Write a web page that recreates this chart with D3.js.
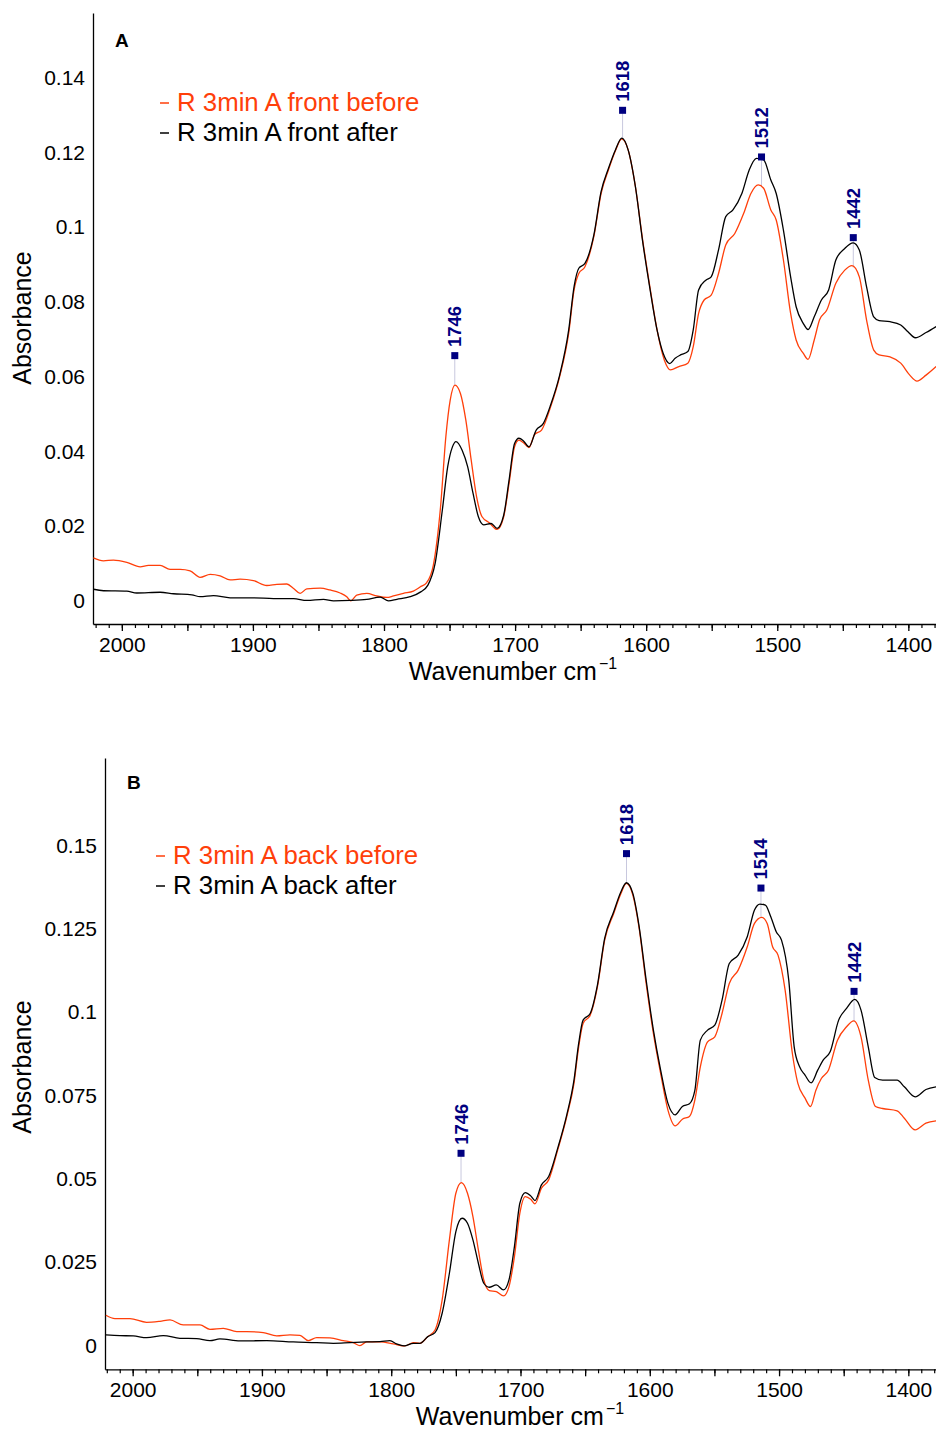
<!DOCTYPE html>
<html>
<head>
<meta charset="utf-8">
<script src="https://cdn.jsdelivr.net/npm/d3@7"></script>
<style>
  body { margin: 0; background: #fff; }
  text { font-family: "Liberation Sans", Arial, sans-serif; }
</style>
</head>
<body>
<div id="chart"></div>
<script>
// spectra: [wavenumber, absorbance]
var frontBefore = [[2021.7,0.0115],[2014,0.0107],[2006.4,0.0109],[1996.2,0.0103],[1986,0.0091],[1979.7,0.0095],[1970.8,0.0095],[1963.2,0.0084],[1955.5,0.0084],[1947.9,0.0080],[1940.3,0.0063],[1932.6,0.0071],[1925,0.0067],[1917.4,0.0056],[1909.8,0.0058],[1899.6,0.0054],[1889.4,0.0041],[1881.8,0.0044],[1874.1,0.0045],[1869,0.0033],[1864,0.0020],[1858.9,0.0032],[1848.7,0.0034],[1841.1,0.0029],[1833.5,0.0021],[1828.4,0.0011],[1825.3,0.0000],[1820.8,0.0015],[1813.1,0.0020],[1805.5,0.0013],[1797.9,0.0009],[1792.8,0.0013],[1785.2,0.0020],[1777.6,0.0026],[1772.5,0.0037],[1767.4,0.0049],[1762.4,0.0095],[1756.9,0.0250],[1752.8,0.0440],[1749.5,0.0537],[1745.9,0.0577],[1741.7,0.0555],[1737.6,0.0484],[1733.5,0.0377],[1729.4,0.0279],[1725.2,0.0225],[1719.7,0.0209],[1713.7,0.0191],[1708.7,0.0225],[1704.6,0.0314],[1700.4,0.0412],[1697.1,0.0430],[1693.6,0.0423],[1689.4,0.0410],[1685.3,0.0444],[1679.8,0.0457],[1672.9,0.0519],[1666,0.0600],[1659.1,0.0716],[1655,0.0832],[1651.4,0.0876],[1646.7,0.0894],[1639.9,0.0975],[1634.4,0.1090],[1628.8,0.1153],[1623.3,0.1206],[1618.6,0.1236],[1613.7,0.1206],[1608.2,0.1108],[1602.7,0.0966],[1597.2,0.0841],[1591.7,0.0725],[1586.1,0.0644],[1581.5,0.0618],[1575.1,0.0627],[1568.2,0.0636],[1564.1,0.0680],[1560,0.0769],[1555.8,0.0805],[1550.4,0.0818],[1544.8,0.0876],[1539.3,0.0952],[1532.4,0.0983],[1525.6,0.1037],[1520.1,0.1090],[1514.5,0.1113],[1510.4,0.1104],[1504.9,0.1046],[1500.8,0.1019],[1495.3,0.0912],[1489.8,0.0769],[1485.6,0.0698],[1480.1,0.0662],[1476.5,0.0646],[1471.8,0.0698],[1467.7,0.0752],[1462.2,0.0778],[1455.3,0.0850],[1448.5,0.0885],[1443,0.0897],[1437.4,0.0867],[1431.9,0.0752],[1426.4,0.0671],[1422.3,0.0658],[1414,0.0653],[1405.8,0.0636],[1398.9,0.0604],[1393.4,0.0588],[1386.5,0.0604],[1378.8,0.0627]];

var frontAfter = [[2021.7,0.0031],[2014,0.0027],[1996.2,0.0026],[1988.6,0.0021],[1970.8,0.0023],[1960.6,0.0019],[1946.6,0.0016],[1940.3,0.0011],[1930.1,0.0014],[1917.4,0.0008],[1899.6,0.0008],[1884.3,0.0006],[1869,0.0006],[1858.9,0.0001],[1846.2,0.0004],[1838.5,0.0000],[1825.8,0.0001],[1813.1,0.0004],[1802.9,0.0010],[1796.6,0.0000],[1790.2,0.0004],[1780,0.0011],[1772,0.0024],[1766.5,0.0042],[1761,0.0100],[1755.5,0.0243],[1751.4,0.0359],[1747.8,0.0412],[1745.1,0.0426],[1740.4,0.0403],[1736.2,0.0359],[1732.1,0.0288],[1728,0.0225],[1723.9,0.0203],[1718.3,0.0207],[1713.7,0.0194],[1708.7,0.0229],[1704.6,0.0323],[1700.4,0.0421],[1697.1,0.0435],[1693.6,0.0428],[1689.4,0.0412],[1683.9,0.0457],[1678.4,0.0475],[1672.9,0.0524],[1666,0.0604],[1659.1,0.0725],[1655,0.0841],[1651.4,0.0890],[1646.7,0.0903],[1639.9,0.0979],[1634.4,0.1095],[1628.8,0.1157],[1623.3,0.1208],[1618.6,0.1238],[1613.7,0.1206],[1608.2,0.1108],[1602.7,0.0962],[1597.2,0.0837],[1591.7,0.0725],[1587,0.0662],[1582,0.0635],[1577.9,0.0649],[1573.8,0.0658],[1568.2,0.0667],[1564.1,0.0725],[1560,0.0832],[1554.5,0.0858],[1550.4,0.0867],[1544.8,0.0939],[1539.3,0.1028],[1533.8,0.1046],[1527,0.1090],[1521.4,0.1153],[1515.9,0.1184],[1510.4,0.1180],[1504.9,0.1126],[1500.8,0.1090],[1495.3,0.0992],[1489.8,0.0867],[1485.6,0.0787],[1480.1,0.0742],[1476.5,0.0726],[1471.8,0.0760],[1466.3,0.0805],[1460.8,0.0832],[1455.3,0.0912],[1448.5,0.0943],[1442.1,0.0958],[1437.4,0.0939],[1431.9,0.0841],[1426.4,0.0760],[1422.3,0.0750],[1414,0.0747],[1405.8,0.0738],[1400.3,0.0720],[1394.7,0.0704],[1386.5,0.0718],[1378.8,0.0734]];

var backBefore = [[2020.7,0.0091],[2013.7,0.0081],[2002.1,0.0081],[1989.2,0.0070],[1978.9,0.0073],[1971.1,0.0077],[1960.9,0.0062],[1947.9,0.0062],[1940.2,0.0049],[1929.9,0.0052],[1919.5,0.0042],[1911.8,0.0042],[1899,0.0039],[1888.6,0.0029],[1878.3,0.0032],[1870.6,0.0031],[1864.2,0.0015],[1857.7,0.0024],[1847.4,0.0023],[1837.1,0.0015],[1829.4,0.0009],[1824.2,0.0000],[1819,0.0011],[1808.7,0.0011],[1798.4,0.0005],[1789.4,-0.0001],[1782.9,0.0009],[1777.8,0.0007],[1771.7,0.0027],[1766.1,0.0047],[1760.6,0.0137],[1755,0.0317],[1750,0.0457],[1745.7,0.0489],[1741,0.0457],[1736.8,0.0387],[1732.6,0.0287],[1728.4,0.0197],[1724.2,0.0165],[1718.7,0.0162],[1713.1,0.0149],[1708.9,0.0177],[1704.7,0.0267],[1700.5,0.0397],[1696.3,0.0447],[1692.1,0.0439],[1688.8,0.0425],[1683.8,0.0472],[1678.2,0.0497],[1671.2,0.0587],[1664.2,0.0687],[1658.6,0.0787],[1655,0.0896],[1651.6,0.0966],[1646.1,0.0991],[1640.5,0.1076],[1634.9,0.1216],[1627.9,0.1296],[1622.3,0.1356],[1618.1,0.1386],[1613.1,0.1351],[1608.4,0.1256],[1602.8,0.1086],[1597.2,0.0936],[1591.6,0.0816],[1586,0.0707],[1580.4,0.0659],[1574.8,0.0679],[1569.3,0.0687],[1565.1,0.0737],[1560.9,0.0836],[1555.3,0.0911],[1549.7,0.0926],[1544.1,0.0996],[1538.5,0.1086],[1531.6,0.1126],[1524.6,0.1196],[1519,0.1266],[1513.4,0.1284],[1509.2,0.1266],[1505,0.1196],[1500.8,0.1171],[1495.3,0.1066],[1489.7,0.0876],[1485.5,0.0787],[1479.9,0.0742],[1475.7,0.0717],[1471.5,0.0766],[1467.3,0.0801],[1461.8,0.0826],[1454.8,0.0916],[1447.8,0.0956],[1442.2,0.0974],[1436.6,0.0926],[1431,0.0796],[1425.4,0.0717],[1419.9,0.0711],[1408.7,0.0704],[1403.1,0.0682],[1394.7,0.0647],[1386.4,0.0667],[1378.5,0.0674]];

var backAfter = [[2020.7,0.0032],[2009.8,0.0030],[1999.5,0.0029],[1989.2,0.0024],[1976.3,0.0030],[1963.4,0.0022],[1950.5,0.0021],[1940.2,0.0015],[1932.5,0.0020],[1917,0.0014],[1896.3,0.0015],[1875.8,0.0011],[1857.7,0.0009],[1844.8,0.0007],[1831.9,0.0009],[1819,0.0011],[1808.7,0.0012],[1801,0.0015],[1795.8,0.0005],[1790.1,-0.0001],[1782.9,0.0007],[1777.8,0.0007],[1771.7,0.0027],[1766.1,0.0039],[1760.6,0.0097],[1755,0.0217],[1750,0.0342],[1745.2,0.0382],[1741,0.0367],[1736.8,0.0317],[1732.6,0.0247],[1728.4,0.0187],[1724.2,0.0175],[1718.7,0.0182],[1713.1,0.0167],[1708.9,0.0197],[1704.7,0.0297],[1700.5,0.0427],[1696.3,0.0459],[1692.1,0.0449],[1688.8,0.0435],[1683.8,0.0482],[1678.2,0.0507],[1671.2,0.0592],[1664.2,0.0692],[1658.6,0.0797],[1655,0.0906],[1651.6,0.0976],[1646.1,0.0996],[1640.5,0.1081],[1634.9,0.1221],[1627.9,0.1301],[1622.3,0.1361],[1618.1,0.1388],[1613.1,0.1356],[1608.4,0.1261],[1602.8,0.1096],[1597.2,0.0946],[1591.6,0.0826],[1586,0.0727],[1580.4,0.0692],[1574.8,0.0717],[1569.3,0.0725],[1565.1,0.0766],[1560.9,0.0916],[1555.3,0.0946],[1549.7,0.0961],[1544.1,0.1036],[1538.5,0.1146],[1531.6,0.1171],[1524.6,0.1226],[1519,0.1306],[1514.8,0.1324],[1510.6,0.1321],[1506.4,0.1286],[1502.2,0.1241],[1498.1,0.1216],[1492.5,0.1096],[1488.3,0.0896],[1484.1,0.0836],[1479.9,0.0811],[1475.2,0.0788],[1470.1,0.0826],[1465.9,0.0856],[1460.4,0.0882],[1453.9,0.0976],[1447.8,0.1011],[1441.4,0.1038],[1436.6,0.1006],[1431,0.0896],[1426,0.0804],[1419.9,0.0796],[1408.7,0.0796],[1403.1,0.0776],[1394.7,0.0746],[1386.4,0.0768],[1378.5,0.0776]];

var peaksFront = [1746, 1618, 1512, 1442];
var peaksBack = [1746, 1618, 1514, 1442];

var yTicksFront = [0, 0.02, 0.04, 0.06, 0.08, 0.1, 0.12, 0.14];
var yTicksBack = [0, 0.025, 0.05, 0.075, 0.1, 0.125, 0.15];
var xLabelTicks = [2000, 1900, 1800, 1700, 1600, 1500, 1400];

var legendFront = ["R 3min A front before", "R 3min A front after"];
var legendBack = ["R 3min A back before", "R 3min A back after"];

var colBefore = "#ff3f0a";
var colAfter = "#000000";
var navy = "#000080";

var svg = d3.select("#chart").append("svg")
    .attr("width", 936)
    .attr("height", 1429)
    .style("background", "#fff");

var fmt = d3.format(".3~f");

// linear lookup of a spectrum at a wavenumber (data is sorted high -> low)
function valueAt(data, wn){
    for(var i = 0; i < data.length - 1; i++){
        var a = data[i], b = data[i+1];
        if(wn <= a[0] && wn >= b[0]){
            var t = (a[0] - wn) / (a[0] - b[0]);
            return a[1] + t * (b[1] - a[1]);
        }
    }
    return data[data.length-1][1];
}

function drawPanel(p){
    var x = d3.scaleLinear().domain(p.xDomain).range([p.left, p.right]);
    var y = d3.scaleLinear().domain(p.yDomain).range([p.bottom, p.top]);

    var g = svg.append("g");

    g.append("clipPath").attr("id", "clip" + p.name)
        .append("rect")
        .attr("x", p.left).attr("y", p.top)
        .attr("width", p.right - p.left).attr("height", p.bottom - p.top);

    // y axis: plain line, labels only
    var yAx = g.append("g").attr("transform", "translate(" + p.left + ",0)")
        .call(d3.axisLeft(y).tickValues(p.yTicks).tickSize(0).tickPadding(8).tickFormat(fmt));
    yAx.select(".domain").attr("stroke", "#000").attr("stroke-width", 1.3);
    yAx.selectAll("text").attr("font-size", 21).attr("font-family", "Liberation Sans, Arial, sans-serif").attr("fill", "#000");

    // x axis: minor ticks every 10, major every 50, labels every 100
    var xMinor = g.append("g").attr("transform", "translate(0," + p.bottom + ")")
        .call(d3.axisBottom(x).tickValues(d3.range(1380, 2021, 10)).tickSize(4).tickSizeOuter(0).tickFormat(""));
    xMinor.select(".domain").attr("stroke", "#000").attr("stroke-width", 1.3);
    xMinor.selectAll(".tick line").attr("stroke-width", 1.2);

    var xMajor = g.append("g").attr("transform", "translate(0," + p.bottom + ")")
        .call(d3.axisBottom(x).tickValues(d3.range(1400, 2001, 50)).tickSize(7).tickSizeOuter(0).tickFormat(""));
    xMajor.select(".domain").remove();
    xMajor.selectAll(".tick line").attr("stroke-width", 1.3);

    var xLab = g.append("g").attr("transform", "translate(0," + p.bottom + ")")
        .call(d3.axisBottom(x).tickValues(xLabelTicks).tickSize(0).tickPadding(13).tickFormat(d3.format("d")));
    xLab.select(".domain").remove();
    xLab.selectAll("text").attr("font-size", 21).attr("font-family", "Liberation Sans, Arial, sans-serif").attr("fill", "#000");

    // axis titles
    var xt = g.append("text").attr("x", p.xTitleX).attr("y", p.bottom + 56)
        .attr("text-anchor", "middle").attr("font-size", 25);
    xt.append("tspan").text("Wavenumber cm");
    xt.append("tspan").attr("font-size", 16).attr("dy", -11).attr("dx", 2).text("\u22121");

    g.append("text")
        .attr("transform", "translate(31," + p.yTitleY + ") rotate(-90)")
        .attr("text-anchor", "middle").attr("font-size", 25)
        .text("Absorbance");

    // panel letter
    g.append("text").attr("x", p.letterX).attr("y", p.letterY)
        .attr("font-size", 19).attr("font-weight", "bold").text(p.name);

    // legend
    var cols = [colBefore, colAfter];
    for(var i = 0; i < 2; i++){
        var by = p.legendY + i * 30;
        g.append("line")
            .attr("x1", p.legendX).attr("x2", p.legendX + 9)
            .attr("y1", by - 8).attr("y2", by - 8)
            .attr("stroke", cols[i]).attr("stroke-width", 1.5);
        g.append("text").attr("x", p.legendX + 17).attr("y", by)
            .attr("font-size", 25.8).attr("fill", cols[i])
            .text(p.legend[i]);
    }

    // peak guide lines behind the spectra
    p.peaks.forEach(function(wn){
        var cy = y(valueAt(p.before, wn));
        g.append("line")
            .attr("x1", x(wn)).attr("x2", x(wn))
            .attr("y1", cy - 30).attr("y2", cy)
            .attr("stroke", "#c8c8de").attr("stroke-width", 1);
    });

    var line = d3.line()
        .x(function(d){ return x(d[0]); })
        .y(function(d){ return y(d[1]); })
        .curve(d3.curveMonotoneX);

    var lines = g.append("g").attr("clip-path", "url(#clip" + p.name + ")");
    lines.append("path").datum(p.before)
        .attr("d", line).attr("fill", "none")
        .attr("stroke", colBefore).attr("stroke-width", 1.3);
    lines.append("path").datum(p.after)
        .attr("d", line).attr("fill", "none")
        .attr("stroke", colAfter).attr("stroke-width", 1.3);

    // peak markers and labels
    p.peaks.forEach(function(wn){
        var px = x(wn);
        var sy = y(valueAt(p.before, wn)) - 30;
        g.append("rect")
            .attr("x", px - 3.5).attr("y", sy - 3.5)
            .attr("width", 7).attr("height", 7)
            .attr("fill", navy);
        g.append("text")
            .attr("transform", "translate(" + (px + 6.5) + "," + (sy - 8.5) + ") rotate(-90)")
            .attr("font-size", 18.5).attr("font-weight", "bold").attr("fill", navy)
            .text(wn);
    });
}

drawPanel({
    name: "A",
    left: 93, right: 936, top: 13, bottom: 624,
    xDomain: [2022.0, 1378.9],
    yDomain: [-0.0062, 0.1573],
    yTicks: yTicksFront,
    before: frontBefore, after: frontAfter,
    peaks: peaksFront,
    legend: legendFront,
    legendX: 160, legendY: 111,
    letterX: 115, letterY: 47,
    xTitleX: 513, yTitleY: 318
});

drawPanel({
    name: "B",
    left: 105, right: 936, top: 758, bottom: 1369.3,
    xDomain: [2021.4, 1378.6],
    yDomain: [-0.0071, 0.1762],
    yTicks: yTicksBack,
    before: backBefore, after: backAfter,
    peaks: peaksBack,
    legend: legendBack,
    legendX: 156, legendY: 864,
    letterX: 127, letterY: 789,
    xTitleX: 520, yTitleY: 1067
});
</script>
</body>
</html>
